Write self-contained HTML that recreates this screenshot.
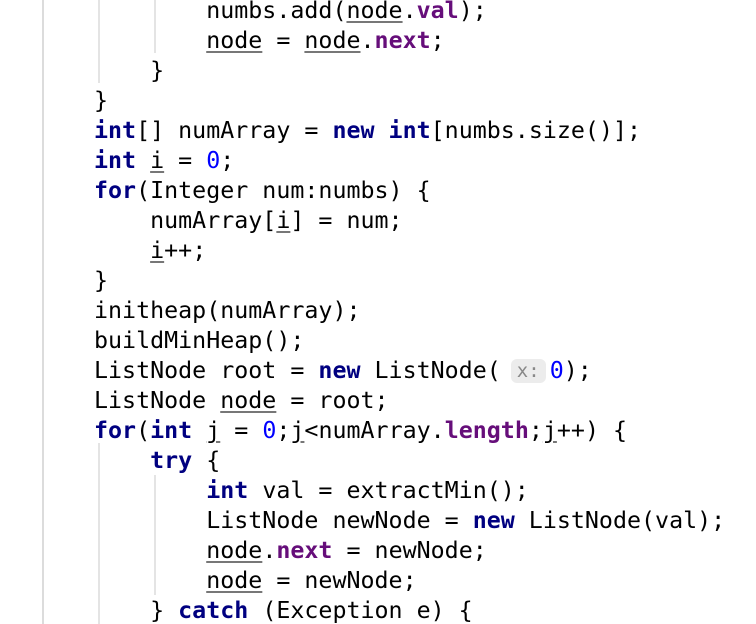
<!DOCTYPE html>
<html><head><style>
html,body{margin:0;padding:0;background:#fff;width:756px;height:624px;overflow:hidden;position:relative}
pre{position:absolute;left:94px;top:-4px;margin:0;font-family:"DejaVu Sans Mono","Liberation Mono",monospace;font-size:23.3px;line-height:30px;color:#000}
.k{color:#000080;font-weight:bold}
.n{color:#0000ff}
.f{color:#660e7a;font-weight:bold}
.u{text-decoration:underline;text-decoration-color:#777;text-underline-offset:3px;text-decoration-thickness:1.5px}
.h{display:inline-block;background:#ececec;color:#888;font-size:19px;border-radius:6px;padding:0 6px;line-height:24px;margin:0 4px 0 -4px;vertical-align:1px}
.g{position:absolute;width:2px;background:#e4e4e4}
</style></head><body>
<div class="g" style="left:42px;top:0;height:624px;background:#dcdcdc"></div>
<div class="g" style="left:98px;top:0;height:83px"></div>
<div class="g" style="left:154px;top:0;height:53px"></div>
<div class="g" style="left:98px;top:443px;height:181px"></div>
<div class="g" style="left:154px;top:475px;height:120px"></div>
<pre>        numbs.add(<span class="u">node</span>.<span class="f">val</span>);
        <span class="u">node</span> = <span class="u">node</span>.<span class="f">next</span>;
    }
}
<span class="k">int</span>[] numArray = <span class="k">new int</span>[numbs.size()];
<span class="k">int</span> <span class="u">i</span> = <span class="n">0</span>;
<span class="k">for</span>(Integer num:numbs) {
    numArray[<span class="u">i</span>] = num;
    <span class="u">i</span>++;
}
initheap(numArray);
buildMinHeap();
ListNode root = <span class="k">new</span> ListNode( <span class="h">x:</span><span class="n">0</span>);
ListNode <span class="u">node</span> = root;
<span class="k">for</span>(<span class="k">int</span> <span class="u">j</span> = <span class="n">0</span>;<span class="u">j</span>&lt;numArray.<span class="f">length</span>;<span class="u">j</span>++) {
    <span class="k">try</span> {
        <span class="k">int</span> val = extractMin();
        ListNode newNode = <span class="k">new</span> ListNode(val);
        <span class="u">node</span>.<span class="f">next</span> = newNode;
        <span class="u">node</span> = newNode;
    } <span class="k">catch</span> (Exception e) {
</pre>
</body></html>
